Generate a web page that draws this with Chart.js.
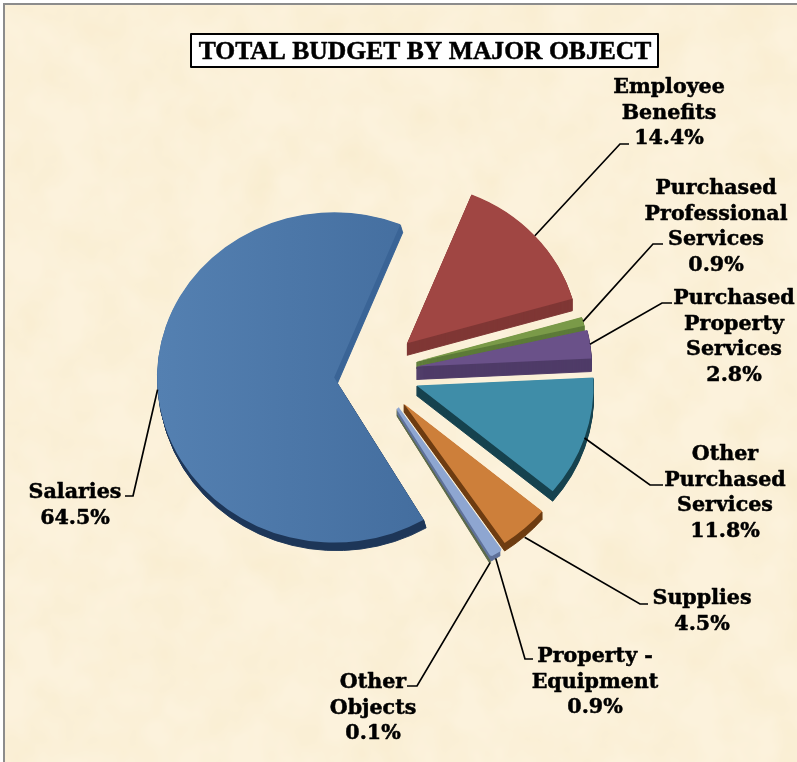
<!DOCTYPE html>
<html><head><meta charset="utf-8">
<script src="https://cdn.jsdelivr.net/npm/chart.js@4"></script>
<style>
html,body{margin:0;padding:0;background:#fff;overflow:hidden}
#bg{position:absolute;left:3px;top:3px;width:794px;height:759px;border-left:2px solid #8c8c8c;border-top:2px solid #8c8c8c;box-sizing:border-box;background-color:#fcf2dc;
background-image:url("data:image/svg+xml;utf8,<svg xmlns='http://www.w3.org/2000/svg' width='794' height='759'><filter id='n' x='0' y='0' width='100%' height='100%'><feTurbulence type='fractalNoise' baseFrequency='0.022' numOctaves='3' seed='7'/><feColorMatrix values='0 0 0 0 0.93  0 0 0 0 0.82  0 0 0 0 0.58  0.7 0.7 0 0 -0.52'/></filter><rect width='794' height='759' filter='url(%23n)'/></svg>");}
canvas{position:absolute;left:0;top:0}
</style></head><body>
<div id="bg"></div>
<canvas id="c" width="797" height="762"></canvas>
<script>
// ---- data ----
const categories = ["Employee Benefits","Purchased Professional Services","Purchased Property Services","Other Purchased Services","Supplies","Property - Equipment","Other Objects","Salaries"];
const shares = [14.4,0.9,2.8,11.8,4.5,0.9,0.1,64.5];
const titleText = "TOTAL BUDGET BY MAJOR OBJECT";
// ---- label text ----
const labelLines = [["Employee","Benefits"],["Purchased","Professional","Services"],["Purchased","Property","Services"],["Other","Purchased","Services"],["Supplies"],["Property -","Equipment"],["Other","Objects"],["Salaries"]];
// ---- styling ----
const topColors = ["#a04643","#7a9a48","#6a5189","#3f8da8","#cd7f3a","#8ea6d1","#9a9a96","#4b76a8"];
const wallColors = ["#803735","#5c7a38","#4f3b68","#17424f","#6e3c12","#5f7199","#5d6b4d","#1d3658"];
const explodeBy = [46,45,44,46,46,46,47,39];
const explodeExtraY = [0,0,0,0,0,0,0,3];
const sliceRadius = [172,172,175,177,180,183,183,177];
const wallDepth = [12,7,13,10,8,6,6,8];
const wallLean = [0,0,0,0,0,0,0,0.3];
const topBorder = [0,0,0,0,0,3,1,0];
const drawOrder = [7,0,1,2,3,6,5,4];
const labelCenterX = [669,716,734,725,702,595,373,75];
const labelFirstY = [88,189,299,455,599,657,683,493];
const linePitch = 25.4;
const elbowPoints = [[620,144],[653,244],[662,303],[650,485],[640,604],[525,659],[417,686],[133,496]];
const elbowEnds = [[629,144],[663,244],[672,303],[663,485],[648,604],[533,659],[407,686],[125,496]];
const leaderDrop = [0,0,0,0,9,6,6,0];
const squash = 0.933;
const startRotation = 22;

const canvas = document.getElementById('c');
const ctx0 = canvas.getContext('2d');
const salaryFill = ctx0.createLinearGradient(158,0,420,0);
salaryFill.addColorStop(0,'#5480b1'); salaryFill.addColorStop(1,'#446e9f');
const salaryWall = ctx0.createLinearGradient(0,220,0,400);
salaryWall.addColorStop(0,'#3a6496'); salaryWall.addColorStop(.9,'#3a6496'); salaryWall.addColorStop(1,'#1d3658');
const fills = topColors.slice(); fills[7] = salaryFill;
const walls = wallColors.slice(); walls[7] = salaryWall;

const pct = v => v.toFixed(1) + '%';

const explodedPie = {
  id:'explodedPie',
  afterDatasetUpdate(chart,args){
    args.meta.data.forEach((arc,i)=>{
      const mid=(arc.startAngle+arc.endAngle)/2;
      arc.x+=Math.cos(mid)*explodeBy[i];
      arc.y+=Math.sin(mid)*explodeBy[i]+explodeExtraY[i];
      arc.outerRadius=sliceRadius[i];
    });
  },
  beforeDatasetDraw(chart,args){
    const ctx=chart.ctx, a=chart.chartArea, cy=(a.top+a.bottom)/2;
    const data=args.meta.data;
    ctx.save();
    ctx.translate(0,cy); ctx.scale(1,squash); ctx.translate(0,-cy);
    drawOrder.forEach(i=>{
      const arc=data[i], o=arc.options;
      arc.options=Object.assign({},o,{backgroundColor:walls[i],borderColor:walls[i],borderWidth:1});
      for(let d=wallDepth[i];d>0;d--){
        ctx.save(); ctx.translate(d*wallLean[i],d/squash); arc.draw(ctx); ctx.restore();
      }
      arc.options=Object.assign({},o,{borderColor:fills[i],borderWidth:topBorder[i]});
      arc.draw(ctx);
      arc.options=o;
    });
    ctx.restore();
    return false;
  },
  afterDraw(chart){
    const ctx=chart.ctx, a=chart.chartArea, cy=(a.top+a.bottom)/2;
    const data=chart.getDatasetMeta(0).data;
    // leader lines, from each slice's rim at its mid angle
    ctx.save();
    ctx.strokeStyle='#000'; ctx.lineWidth=1.7;
    data.forEach((arc,i)=>{
      const mid=(arc.startAngle+arc.endAngle)/2;
      const px=arc.x+Math.cos(mid)*arc.outerRadius;
      const py=cy+(arc.y+Math.sin(mid)*arc.outerRadius-cy)*squash+leaderDrop[i];
      ctx.beginPath(); ctx.moveTo(px,py);
      ctx.lineTo(elbowPoints[i][0],elbowPoints[i][1]);
      ctx.lineTo(elbowEnds[i][0],elbowEnds[i][1]);
      ctx.stroke();
    });
    // labels
    ctx.fillStyle='#000'; ctx.textAlign='center'; ctx.textBaseline='middle';
    ctx.font='bold 20.6px "DejaVu Serif"';
    ctx.lineWidth=0.5; ctx.lineJoin='round';
    labelLines.forEach((lines,i)=>{
      lines.concat(pct(shares[i])).forEach((t,j)=>{
        const y=labelFirstY[i]+j*linePitch;
        ctx.fillText(t,labelCenterX[i],y);
        ctx.strokeText(t,labelCenterX[i],y);
      });
    });
    // title
    ctx.fillStyle='#fff'; ctx.fillRect(190,33,469,35);
    ctx.strokeStyle='#000'; ctx.lineWidth=2; ctx.strokeRect(191,34,467,33);
    ctx.fillStyle='#000'; ctx.strokeStyle='#000'; ctx.lineWidth=0.5;
    ctx.font='bold 25.6px "Liberation Serif"';
    ctx.fillText(titleText,425,52);
    ctx.strokeText(titleText,425,52);
    ctx.restore();
  }
};

new Chart(canvas,{
  type:'pie',
  data:{labels:categories,datasets:[{data:shares,backgroundColor:fills,borderWidth:0}]},
  options:{
    responsive:false,animation:false,events:[],
    rotation:startRotation,
    radius:172,
    layout:{padding:{left:0,top:0,right:51,bottom:18}},
    plugins:{legend:{display:false},tooltip:{enabled:false}}
  },
  plugins:[explodedPie]
});
</script>
</body></html>
